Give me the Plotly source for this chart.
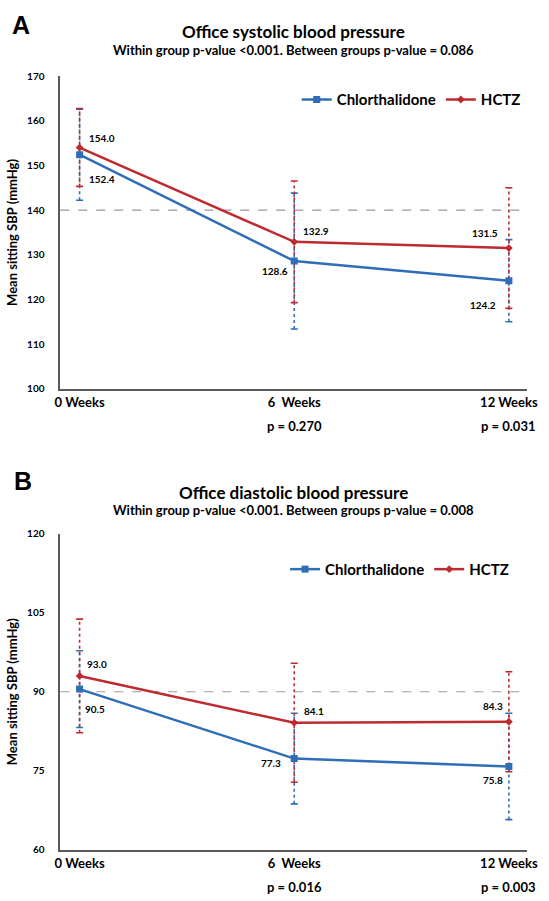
import plotly.graph_objects as go

# ---------------- data ----------------
weeks = ["0 Weeks", "6  Weeks", "12 Weeks"]
weeks_x = [0, 1, 2]

sbp_p = ["", "p = 0.270", "p = 0.031"]
sbp_chl = [152.4, 128.6, 124.2]
sbp_chl_sd = [10.2, 15.2, 9.2]
sbp_hctz = [154.0, 132.9, 131.5]
sbp_hctz_sd = [8.7, 13.6, 13.5]
sbp_ref = 140
sbp_ticks = [100, 110, 120, 130, 140, 150, 160, 170]

dbp_p = ["", "p = 0.016", "p = 0.003"]
dbp_chl = [90.5, 77.3, 75.8]
dbp_chl_sd = [7.3, 8.6, 10.1]
dbp_hctz = [93.0, 84.1, 84.3]
dbp_hctz_sd = [10.8, 11.3, 9.5]
dbp_ref = 90
dbp_ticks = [60, 75, 90, 105, 120]

# ---------------- style ----------------
FONT = "Lato"
BLUE = "#2F6EB7"
RED = "#BF2A30"
AXIS = "#5A5A5A"
W, H = 549, 901

fig = go.Figure()


def err_trace(x, mean, sd, color, xa, ya):
    xs, ys = [], []
    for xi, m, s in zip(x, mean, sd):
        xs += [xi, xi, None]
        ys += [m - s, m + s, None]
    return go.Scatter(
        x=xs, y=ys, mode="lines+markers", xaxis=xa, yaxis=ya,
        line=dict(color=color, width=1.6, dash="dot"),
        marker=dict(symbol="line-ew", size=5, line=dict(color=color, width=1.6)),
        showlegend=False, hoverinfo="skip",
    )


def series(x, y, name, color, symbol, size, xa, ya, legend, show):
    return go.Scatter(
        x=x, y=y, name=name, mode="lines+markers", xaxis=xa, yaxis=ya,
        line=dict(color=color, width=2.5),
        marker=dict(symbol=symbol, size=size, color=color),
        legend=legend, showlegend=show,
    )


panels = [
    dict(xa="x", ya="y", chl=sbp_chl, chl_sd=sbp_chl_sd, hctz=sbp_hctz, hctz_sd=sbp_hctz_sd,
         legend="legend"),
    dict(xa="x2", ya="y2", chl=dbp_chl, chl_sd=dbp_chl_sd, hctz=dbp_hctz, hctz_sd=dbp_hctz_sd,
         legend="legend2"),
]

for p in panels:
    fig.add_trace(err_trace(weeks_x, p["chl"], p["chl_sd"], BLUE, p["xa"], p["ya"]))
    fig.add_trace(err_trace(weeks_x, p["hctz"], p["hctz_sd"], RED, p["xa"], p["ya"]))
    fig.add_trace(series(weeks_x, p["chl"], "Chlorthalidone", BLUE, "square", 7,
                         p["xa"], p["ya"], p["legend"], True))
    fig.add_trace(series(weeks_x, p["hctz"], "HCTZ", RED, "diamond", 6,
                         p["xa"], p["ya"], p["legend"], True))

# panel geometry (pixels)
x0, x1 = 56, 538
A_top, A_bot = 71, 388
B_top, B_bot = 535, 855


def fy(py):
    return 1 - py / H


xrange = [-0.09, 2.086]
common_x = dict(
    range=xrange, tickvals=weeks_x, ticktext=weeks, showgrid=False, zeroline=False,
    showline=True, linecolor=AXIS, linewidth=1.5, ticks="", ticklabelstandoff=1,
    tickfont=dict(family=FONT, size=13, color="black", weight=700),
    domain=[x0 / W, x1 / W],
)
common_y = dict(
    showgrid=False, zeroline=False, showline=True, linecolor=AXIS, linewidth=1.5,
    ticks="", ticklabelstandoff=12,
    tickfont=dict(family=FONT, size=10, color="black", weight=700),
    title=dict(text="Mean sitting SBP (mmHg)", standoff=7,
               font=dict(family=FONT, size=13, color="black", weight=700)),
)

leg_font = dict(family=FONT, size=15, color="black", weight=700)
fig.update_layout(
    width=W, height=H, margin=dict(l=0, r=0, t=0, b=0),
    paper_bgcolor="white", plot_bgcolor="white",
    xaxis=dict(common_x, anchor="y"),
    yaxis=dict(common_y, range=[100, 170], tickvals=sbp_ticks, domain=[fy(A_bot), fy(A_top)],
               anchor="x"),
    xaxis2=dict(common_x, anchor="y2"),
    yaxis2=dict(common_y, range=[60, 120], tickvals=dbp_ticks, domain=[fy(B_bot), fy(B_top)],
                anchor="x2"),
    legend=dict(orientation="h", x=300 / W, xanchor="left", y=fy(95), yanchor="middle",
                font=leg_font, itemwidth=30, bgcolor="rgba(0,0,0,0)"),
    legend2=dict(orientation="h", x=288 / W, xanchor="left", y=fy(571), yanchor="middle",
                 font=leg_font, itemwidth=30, bgcolor="rgba(0,0,0,0)"),
    showlegend=True,
)

# reference lines
for ya, ref in (("y", sbp_ref), ("y2", dbp_ref)):
    fig.add_shape(type="line", xref=("x domain" if ya == "y" else "x2 domain"), yref=ya,
                  x0=0, x1=1, y0=ref, y1=ref, line=dict(color="#9A9A9A", width=1.2, dash="dash"),
                  layer="below")

# data labels
lab_font = dict(family=FONT, size=10, color="black", weight=700)
sbp_chl_off = [(22, -24), (-19, -10), (-26, -24)]
sbp_hctz_off = [(22, 10), (22, 11), (-24, 15)]
dbp_chl_off = [(15, -20), (-23, -4), (-16, -14)]
dbp_hctz_off = [(17, 12), (20, 12), (-16, 16)]
for xa, ya, vals, offs in (
    ("x", "y", sbp_chl, sbp_chl_off), ("x", "y", sbp_hctz, sbp_hctz_off),
    ("x2", "y2", dbp_chl, dbp_chl_off), ("x2", "y2", dbp_hctz, dbp_hctz_off),
):
    for xi, v, (dx, dy) in zip(weeks_x, vals, offs):
        fig.add_annotation(x=xi, y=v, xref=xa, yref=ya, text=f"{v:.1f}", showarrow=False,
                           xshift=dx, yshift=dy, font=lab_font)

# p-values under the axis
p_font = dict(family=FONT, size=13, color="black", weight=700)
for xa, ya, plist in (("x", "y domain", sbp_p), ("x2", "y2 domain", dbp_p)):
    for xi, txt in zip(weeks_x, plist):
        if txt:
            fig.add_annotation(x=xi, y=0, xref=xa, yref=ya, text=txt, showarrow=False,
                               yanchor="middle", yshift=-37, font=p_font)

# titles and panel letters
title_font = dict(family=FONT, size=17, color="black", weight=700)
sub_font = dict(family=FONT, size=13, color="black", weight=700)
letter_font = dict(family="Liberation Sans", size=25, color="black", weight=700)
for letter, lx, ly, title, ty, sub, sy in (
    ("A", 15, 19, "Office systolic blood pressure", 26,
     "Within group p-value <0.001. Between groups p-value = 0.086", 45),
    ("B", 18, 481, "Office diastolic blood pressure", 493,
     "Within group p-value <0.001. Between groups p-value = 0.008", 511),
):
    fig.add_annotation(x=lx / W, y=fy(ly), xref="paper", yref="paper", text=letter,
                       showarrow=False, font=letter_font, xanchor="center", yanchor="middle")
    fig.add_annotation(x=296.5 / W, y=fy(ty), xref="paper", yref="paper", text=title,
                       showarrow=False, font=title_font, xanchor="center", yanchor="middle")
    fig.add_annotation(x=296.5 / W, y=fy(sy), xref="paper", yref="paper", text=sub,
                       showarrow=False, font=sub_font, xanchor="center", yanchor="middle")

fig.write_html("out.html")
